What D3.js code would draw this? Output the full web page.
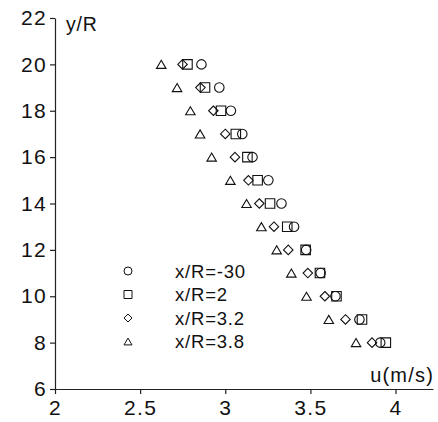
<!DOCTYPE html>
<html>
<head>
<meta charset="utf-8">
<script src="https://cdn.jsdelivr.net/npm/d3@7"></script>
<style>
  html, body { margin: 0; padding: 0; background: #fff; }
  svg { display: block; font-family: "Liberation Sans", Arial, sans-serif; }
</style>
</head>
<body>
<svg id="chart" width="438" height="422"></svg>
<script>
// Velocity profiles u(y/R) at four streamwise stations
const yLevels = [20, 19, 18, 17, 16, 15, 14, 13, 12, 11, 10, 9, 8];
const uXm30 = [2.86, 2.965, 3.033, 3.10, 3.16, 3.253, 3.33, 3.404, 3.475, 3.56, 3.647, 3.788, 3.91];
const uX2   = [2.778, 2.881, 2.975, 3.062, 3.13, 3.19, 3.263, 3.364, 3.472, 3.556, 3.653, 3.803, 3.943];
const uX32  = [2.749, 2.854, 2.93, 3.00, 3.057, 3.136, 3.20, 3.286, 3.37, 3.485, 3.585, 3.706, 3.862];
const uX38  = [2.624, 2.717, 2.795, 2.852, 2.92, 3.03, 3.125, 3.212, 3.302, 3.388, 3.477, 3.608, 3.768];
const seriesNames = ["x/R=-30", "x/R=2", "x/R=3.2", "x/R=3.8"];
const seriesShapes = ["circle", "square", "diamond", "triangle"];
const xTicks = [2, 2.5, 3, 3.5, 4];
const yTicks = [6, 8, 10, 12, 14, 16, 18, 20, 22];

const svg = d3.select("#chart");
const x = d3.scaleLinear().domain([2, 4.22]).range([55, 433]);
const y = d3.scaleLinear().domain([6, 22]).range([389, 18]);

// Open marker shapes; "size" is the full width in px
const shapes = {
  circle: { draw(c, s) { const r = s / 2; c.moveTo(r, 0); c.arc(0, 0, r, 0, 2 * Math.PI); } },
  square: { draw(c, s) { const h = s / 2; c.rect(-h, -h, s, s); } },
  diamond: { draw(c, s) { const h = s / 2; c.moveTo(0, -h); c.lineTo(h, 0); c.lineTo(0, h); c.lineTo(-h, 0); c.closePath(); } },
  triangle: { draw(c, s) { const h = s / 2; c.moveTo(0, -h * 0.85); c.lineTo(h, h * 0.85); c.lineTo(-h, h * 0.85); c.closePath(); } }
};
const markerPath = (shape, size) => d3.symbol().type(shapes[shape]).size(size)();

// Axes
const yAxis = svg.append("g")
  .attr("transform", `translate(${x(2)},0)`)
  .call(d3.axisLeft(y).tickValues(yTicks).tickSize(5).tickSizeOuter(0).tickPadding(3).tickFormat(d3.format("d")));
const xAxis = svg.append("g")
  .attr("transform", `translate(0,${y(6)})`)
  .call(d3.axisBottom(x).tickValues(xTicks).tickSize(5).tickSizeOuter(0).tickPadding(6).tickFormat(d => String(d)));
[yAxis, xAxis].forEach(g => {
  g.attr("font-size", null).attr("font-family", null);
  g.select(".domain").attr("stroke", "#222").attr("stroke-width", 1.2);
  g.selectAll(".tick line").attr("stroke", "#222").attr("stroke-width", 1.2);
  g.selectAll(".tick text")
    .attr("fill", "#111")
    .style("font-size", "21px")
    .style("letter-spacing", "1.3px");
});

// Axis titles
svg.append("text").attr("x", 66).attr("y", 31)
  .style("font-size", "19.5px").style("letter-spacing", "0.8px")
  .attr("fill", "#111").text("y/R");
svg.append("text").attr("x", 434).attr("y", 382).attr("text-anchor", "end")
  .style("font-size", "20px").style("letter-spacing", "1.2px")
  .attr("fill", "#111").text("u(m/s)");

// Data markers
const allSeries = [uXm30, uX2, uX32, uX38];
const plot = svg.append("g");
allSeries.forEach((vals, i) => {
  plot.selectAll(null)
    .data(vals.map((u, k) => ({ u, yr: yLevels[k] })))
    .join("path")
    .attr("transform", d => `translate(${x(d.u)},${y(d.yr)})`)
    .attr("d", markerPath(seriesShapes[i], 9.5))
    .attr("fill", "none")
    .attr("stroke", "#111")
    .attr("stroke-width", 1.1);
});

// Legend
const legend = svg.append("g");
seriesNames.forEach((name, i) => {
  const ly = 271 + i * 23.5;
  legend.append("path")
    .attr("transform", `translate(128,${ly})`)
    .attr("d", markerPath(seriesShapes[i], 8))
    .attr("fill", "none").attr("stroke", "#111").attr("stroke-width", 1);
  legend.append("text")
    .attr("x", 175).attr("y", ly + 6.5)
    .style("font-size", "18.5px").style("letter-spacing", "0.8px")
    .attr("fill", "#111")
    .text(name);
});
</script>
</body>
</html>
